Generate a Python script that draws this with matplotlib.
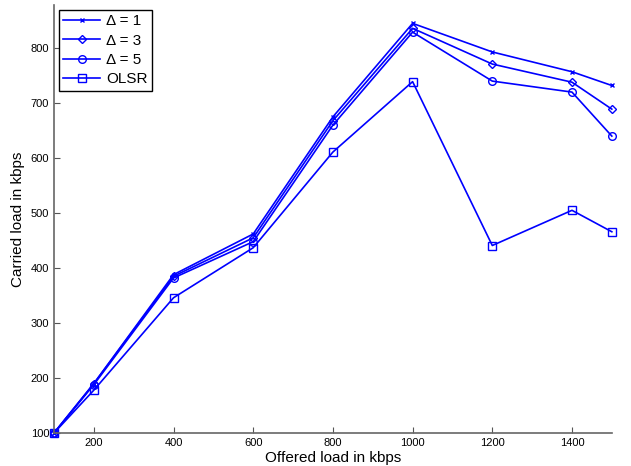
import matplotlib
matplotlib.use('Agg')
import matplotlib.pyplot as plt

plt.rcParams['font.family'] = ['Liberation Sans', 'DejaVu Sans']

# Dados
offered = [100, 200, 400, 600, 800, 1000, 1200, 1400, 1500]
delta1 = [100, 190, 388, 462, 675, 845, 793, 757, 732]
delta3 = [100, 190, 385, 455, 668, 836, 771, 738, 689]
delta5 = [100, 188, 382, 448, 660, 829, 740, 720, 640]
olsr = [100, 178, 346, 437, 611, 739, 441, 505, 466]

series = [
    (delta1, 'x', 3, 'Δ = 1'),
    (delta3, 'D', 4.5, 'Δ = 3'),
    (delta5, 'o', 5.5, 'Δ = 5'),
    (olsr, 's', 5.5, 'OLSR'),
]

fig = plt.figure(figsize=(6.31, 4.66), dpi=100)
ax = fig.add_axes([0.0856, 0.0708, 0.884, 0.918])

for vals, mk, ms, lab in series:
    ax.plot(offered, vals, color='#0000ff', marker=mk, markersize=ms,
            markerfacecolor='none', markeredgecolor='#0000ff', linewidth=1.2,
            markeredgewidth=1.0, label=lab, clip_on=False)

ax.set_xlim(100, 1500)
ax.set_ylim(100, 878)
ax.set_xticks([200, 400, 600, 800, 1000, 1200, 1400])
ax.set_yticks([100, 200, 300, 400, 500, 600, 700, 800])
ax.tick_params(direction='in', labelsize=8, length=4, color='#555555')
ax.spines['top'].set_visible(False)
ax.spines['right'].set_visible(False)
for s in ['left', 'bottom']:
    ax.spines[s].set_color('#666666')
    ax.spines[s].set_linewidth(1.2)

ax.set_xlabel('Offered load in kbps', fontsize=11, labelpad=2)
ax.set_ylabel('Carried load in kbps', fontsize=11, labelpad=4)

leg = ax.legend(loc='upper left', fontsize=11, fancybox=False, framealpha=1,
                edgecolor='black', borderaxespad=0.3, handlelength=2.4,
                labelspacing=0.35, borderpad=0.3, handletextpad=0.4)
leg.get_frame().set_linewidth(1.0)

fig.savefig('out.png', dpi=100)
